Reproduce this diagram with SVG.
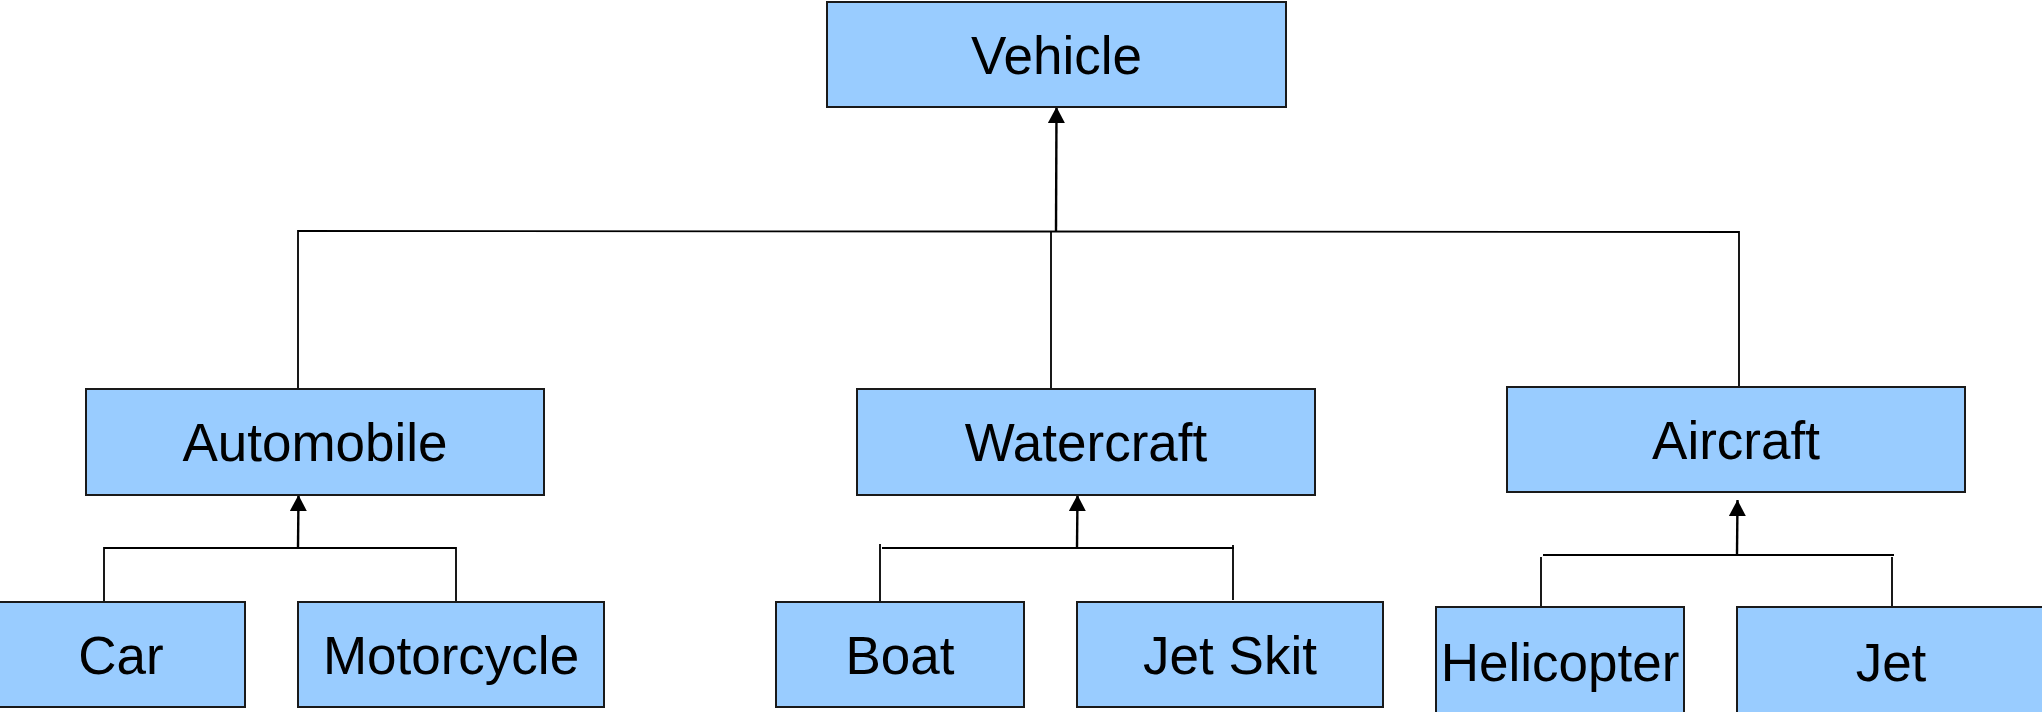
<svg xmlns="http://www.w3.org/2000/svg" width="2042" height="712" viewBox="0 0 2042 712">
<style>
.box{fill:#99ccff;stroke:#1a1a1a;stroke-width:2}
.lbl{font-family:"Liberation Sans",Arial,sans-serif;font-size:53px;fill:#000;text-anchor:middle}
.c{fill:none;stroke:#000;stroke-width:1.8}
.a{fill:none;stroke:#000;stroke-width:2.4;marker-end:url(#ah)}
</style>
<defs>
<marker id="ah" markerUnits="userSpaceOnUse" markerWidth="17" markerHeight="17" refX="16" refY="8.5" orient="auto">
<path d="M0,0 L16,8.5 L0,17 z" fill="#000"/>
</marker>
</defs>
<rect width="2042" height="712" fill="#fff"/>
<g id="connectors">
<line class="a" x1="1056" y1="231" x2="1056.5" y2="107"/>
<polyline class="c" points="298,389 298,231 1739,232 1739,388"/>
<line class="c" x1="1051" y1="231" x2="1051" y2="389"/>
<line class="a" x1="298" y1="548" x2="298.5" y2="495"/>
<polyline class="c" points="104,602 104,548 456,548 456,602"/>
<line class="a" x1="1077" y1="548" x2="1077.5" y2="495"/>
<line class="c" x1="880" y1="544" x2="880" y2="601"/>
<line class="c" x1="882" y1="548" x2="1234" y2="548"/>
<line class="c" x1="1233" y1="545" x2="1233" y2="600"/>
<line class="a" x1="1737" y1="555" x2="1737.5" y2="500"/>
<line class="c" x1="1543" y1="555" x2="1894" y2="555"/>
<line class="c" x1="1541" y1="557" x2="1541" y2="609"/>
<line class="c" x1="1892" y1="557" x2="1892" y2="607"/>
</g>
<g id="vehicle"><rect class="box" x="827" y="2" width="459" height="105"/><text class="lbl" x="1056.5" y="74">Vehicle</text></g>
<g id="automobile"><rect class="box" x="86" y="389" width="458" height="106"/><text class="lbl" x="315" y="461">Automobile</text></g>
<g id="watercraft"><rect class="box" x="857" y="389" width="458" height="106"/><text class="lbl" x="1086" y="461">Watercraft</text></g>
<g id="aircraft"><rect class="box" x="1507" y="387" width="458" height="105"/><text class="lbl" x="1736" y="459">Aircraft</text></g>
<g id="car"><rect class="box" x="-3" y="602" width="248" height="105"/><text class="lbl" x="121" y="674">Car</text></g>
<g id="motorcycle"><rect class="box" x="298" y="602" width="306" height="105"/><text class="lbl" x="451" y="674">Motorcycle</text></g>
<g id="boat"><rect class="box" x="776" y="602" width="248" height="105"/><text class="lbl" x="900" y="674">Boat</text></g>
<g id="jetski"><rect class="box" x="1077" y="602" width="306" height="105"/><text class="lbl" x="1230" y="674">Jet Skit</text></g>
<g id="helicopter"><rect class="box" x="1436" y="607" width="248" height="106"/><text class="lbl" x="1560" y="681">Helicopter</text></g>
<g id="jet"><rect class="box" x="1737" y="607" width="308" height="106"/><text class="lbl" x="1891" y="681">Jet</text></g>
</svg>
